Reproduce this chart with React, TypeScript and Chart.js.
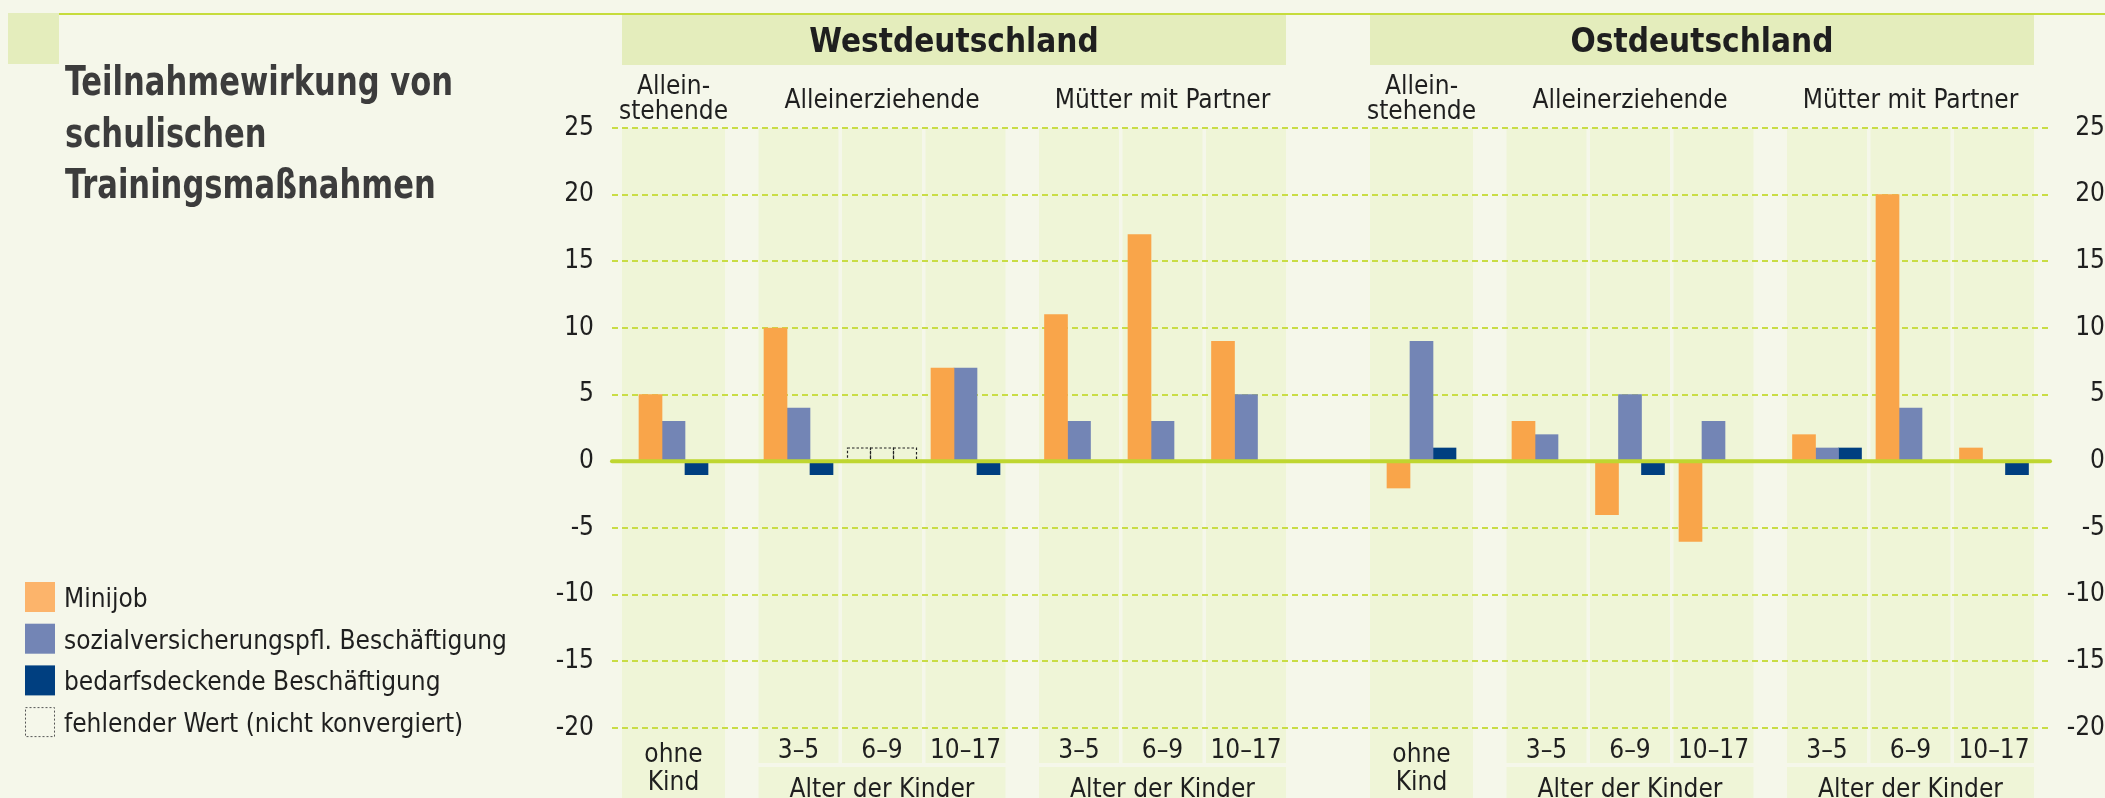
import React, { useEffect, useRef } from "react";
import { Chart, registerables } from "chart.js";

Chart.register(...registerables);

// ---------------- data ----------------
const TITLE_LINES = ["Teilnahmewirkung von", "schulischen", "Trainingsmaßnahmen"];
const REGIONS = ["Westdeutschland", "Ostdeutschland"];
const GROUP_TITLES = [["Allein-", "stehende"], ["Alleinerziehende"], ["Mütter mit Partner"]];
const CATEGORY_REGION = [0, 0, 0, 0, 0, 0, 0, 1, 1, 1, 1, 1, 1, 1];
const CATEGORY_GROUP = [0, 1, 1, 1, 2, 2, 2, 0, 1, 1, 1, 2, 2, 2];
const CATEGORY_LABELS = [
  ["ohne", "Kind"], ["3–5"], ["6–9"], ["10–17"], ["3–5"], ["6–9"], ["10–17"],
  ["ohne", "Kind"], ["3–5"], ["6–9"], ["10–17"], ["3–5"], ["6–9"], ["10–17"],
];
const AGE_CAPTION = "Alter der Kinder";
const SERIES_NAMES = ["Minijob", "sozialversicherungspfl. Beschäftigung", "bedarfsdeckende Beschäftigung"];
const MISSING_NAME = "fehlender Wert (nicht konvergiert)";
const MINIJOB = [5, 10, null, 7, 11, 17, 9, -2, 3, -4, -6, 2, 20, 1];
const SOZIAL = [3, 4, null, 7, 3, 3, 5, 9, 2, 5, 3, 1, 4, 0];
const BEDARF = [-1, -1, null, -1, 0, 0, 0, 1, 0, -1, 0, 1, 0, -1];
const MISSING = [false, false, true, false, false, false, false, false, false, false, false, false, false, false];
const MISSING_PLACEHOLDER = 1;
const Y_MIN = -20;
const Y_MAX = 25;
const Y_STEP = 5;

// ---------------- style / layout ----------------
const W = 2105;
const H = 798;
const FONT = '"Liberation Sans Narrow", "DejaVu Sans Condensed", "Arial Narrow", sans-serif';
const C = {
  bg: "#f5f7ea",
  band: "#eff5d7",
  header: "#e4edbc",
  rule: "#c6dc3c",
  grid: "#c9dd45",
  zero: "#bfd630",
  text: "#1f1f1f",
  title: "#3c3c3c",
};
const SERIES_COLORS = ["#f9a54a", "#7385b5", "#003f80"];
const LEGEND_COLORS = ["#fcb46b", "#7385b5", "#003f80"];
const SINGLE_W = 103;
const COL_W = 80;
const COL_GAP = 3.5;
const GROUP_GAP = 33.5;
const REGION_GAP = 84;
const BAR_W = 23;
const LEFT_AXIS_W = 622;
const RIGHT_AXIS_W = 71;
const RIGHT_LABEL_EDGE = 2099;
const TICK_SIZE = 26;
const TITLE_WIDTH = 388;

function f(size: number, bold = false) {
  return `${bold ? "bold " : ""}${size}px ${FONT}`;
}

// positions of columns along the x (layout) axis
const LAYOUT = (() => {
  const left: number[] = [];
  const width: number[] = [];
  let cursor = 0;
  for (let i = 0; i < CATEGORY_GROUP.length; i++) {
    if (i > 0) {
      if (CATEGORY_REGION[i] !== CATEGORY_REGION[i - 1]) cursor += REGION_GAP;
      else if (CATEGORY_GROUP[i] !== CATEGORY_GROUP[i - 1]) cursor += GROUP_GAP;
      else cursor += COL_GAP;
    }
    const w = CATEGORY_GROUP[i] === 0 ? SINGLE_W : COL_W;
    left.push(cursor);
    width.push(w);
    cursor += w;
  }
  const center = left.map((l, i) => l + width[i] / 2);
  return { left, width, center, total: cursor };
})();

function span(pred: (i: number) => boolean) {
  let lo = Infinity;
  let hi = -Infinity;
  for (let i = 0; i < CATEGORY_GROUP.length; i++) {
    if (pred(i)) {
      lo = Math.min(lo, LAYOUT.left[i]);
      hi = Math.max(hi, LAYOUT.left[i] + LAYOUT.width[i]);
    }
  }
  return [lo, hi];
}

const decorPlugin = {
  id: "decor",
  beforeDraw(chart: any) {
    const { ctx } = chart;
    const xs = chart.scales.x;
    const ys = chart.scales.y;
    const px = (v: number) => xs.getPixelForValue(v);
    ctx.save();
    ctx.fillStyle = C.bg;
    ctx.fillRect(0, 0, W, H);

    // corner square and top rule
    ctx.fillStyle = C.header;
    ctx.fillRect(8, 13, 51, 51);
    ctx.fillStyle = C.rule;
    ctx.fillRect(59, 13, W - 59, 2);

    // region headers
    REGIONS.forEach((name, r) => {
      const [lo, hi] = span((i) => CATEGORY_REGION[i] === r);
      const l = px(lo);
      const rr = px(hi);
      ctx.fillStyle = C.header;
      ctx.fillRect(l, 15, rr - l, 50);
      ctx.fillStyle = C.text;
      ctx.font = f(33, true);
      ctx.textAlign = "center";
      ctx.textBaseline = "alphabetic";
      ctx.fillText(name, (l + rr) / 2, 52);
    });

    // column bands
    const bandTop = ys.getPixelForValue(Y_MAX);
    for (let i = 0; i < CATEGORY_GROUP.length; i++) {
      const l = px(LAYOUT.left[i]);
      const r = px(LAYOUT.left[i] + LAYOUT.width[i]);
      ctx.fillStyle = C.band;
      const bottom = CATEGORY_GROUP[i] === 0 ? H : 763;
      ctx.fillRect(l, bandTop, r - l, bottom - bandTop);
      // column labels
      ctx.fillStyle = C.text;
      ctx.font = f(26);
      ctx.textAlign = "center";
      const cx = (l + r) / 2;
      const lines = CATEGORY_LABELS[i];
      if (lines.length === 2) {
        ctx.fillText(lines[0], cx, 762);
        ctx.fillText(lines[1], cx, 790);
      } else {
        ctx.fillText(lines[0], cx, 758);
      }
    }

    // group titles and age captions
    REGIONS.forEach((_, r) => {
      GROUP_TITLES.forEach((lines, g) => {
        const [lo, hi] = span((i) => CATEGORY_REGION[i] === r && CATEGORY_GROUP[i] === g);
        const l = px(lo);
        const rr = px(hi);
        const cx = (l + rr) / 2;
        ctx.fillStyle = C.text;
        ctx.font = f(26);
        ctx.textAlign = "center";
        if (lines.length === 2) {
          ctx.fillText(lines[0], cx, 94);
          ctx.fillText(lines[1], cx, 119);
        } else {
          ctx.fillText(lines[0], cx, 108);
        }
        if (g > 0) {
          ctx.fillStyle = C.band;
          ctx.fillRect(l, 767, rr - l, H - 767);
          ctx.fillStyle = C.text;
          ctx.fillText(AGE_CAPTION, cx, 797);
        }
      });
    });

    // title (condensed to the reference width)
    ctx.fillStyle = C.title;
    ctx.font = f(41, true);
    ctx.textAlign = "left";
    const squeeze = Math.min(1, TITLE_WIDTH / ctx.measureText(TITLE_LINES[0]).width);
    TITLE_LINES.forEach((t, k) =>
      ctx.fillText(t, 65, 95 + k * 51.5, ctx.measureText(t).width * squeeze)
    );

    // legend
    const legendTop = 582;
    const step = 41.7;
    ctx.font = f(26);
    SERIES_NAMES.forEach((name, k) => {
      const y = legendTop + k * step;
      ctx.fillStyle = LEGEND_COLORS[k];
      ctx.fillRect(25, y, 30, 30);
      ctx.fillStyle = C.text;
      ctx.fillText(name, 64, y + 25);
    });
    {
      const y = legendTop + 3 * step;
      ctx.strokeStyle = "#555";
      ctx.lineWidth = 1;
      ctx.setLineDash([2, 2]);
      ctx.strokeRect(25.5, y + 0.5, 29, 29);
      ctx.setLineDash([]);
      ctx.fillStyle = C.text;
      ctx.fillText(MISSING_NAME, 64, y + 25);
    }
    ctx.restore();
  },
  beforeDatasetsDraw(chart: any) {
    const { ctx, chartArea } = chart;
    const ys = chart.scales.y;
    ctx.save();
    ctx.strokeStyle = C.grid;
    ctx.lineWidth = 2;
    ctx.setLineDash([6, 4]);
    for (let v = Y_MIN; v <= Y_MAX; v += Y_STEP) {
      if (v === 0) continue;
      const y = Math.round(ys.getPixelForValue(v));
      ctx.beginPath();
      ctx.moveTo(chartArea.left - 10, y);
      ctx.lineTo(chartArea.right + 18, y);
      ctx.stroke();
    }
    ctx.restore();
  },
  afterDatasetsDraw(chart: any) {
    const { ctx, chartArea } = chart;
    const xs = chart.scales.x;
    const ys = chart.scales.y;
    ctx.save();
    // missing-value placeholders
    ctx.strokeStyle = "#222";
    ctx.lineWidth = 1.2;
    ctx.setLineDash([2.5, 2]);
    const y0 = ys.getPixelForValue(0);
    const y1 = ys.getPixelForValue(MISSING_PLACEHOLDER);
    MISSING.forEach((m, i) => {
      if (!m) return;
      const c = xs.getPixelForValue(LAYOUT.center[i]);
      for (let k = 0; k < SERIES_NAMES.length; k++) {
        const bx = c + (k - 1) * BAR_W - BAR_W / 2;
        ctx.strokeRect(bx, y1, BAR_W, y0 - y1);
      }
    });
    ctx.setLineDash([]);
    // zero line
    ctx.strokeStyle = C.zero;
    ctx.lineWidth = 4;
    ctx.lineCap = "round";
    ctx.beginPath();
    ctx.moveTo(chartArea.left - 10, y0);
    ctx.lineTo(chartArea.right + 16, y0);
    ctx.stroke();
    ctx.restore();
  },
};

export default function App() {
  const ref = useRef<HTMLCanvasElement | null>(null);
  useEffect(() => {
    document.body.style.margin = "0";
    document.body.style.background = C.bg;
    const canvas = ref.current;
    if (!canvas) return;
    // widest tick label, so right-hand labels end flush at the reference edge
    const mctx = canvas.getContext("2d")!;
    mctx.font = f(TICK_SIZE);
    let widest = 0;
    for (let v = Y_MIN; v <= Y_MAX; v += Y_STEP) {
      widest = Math.max(widest, mctx.measureText(String(v)).width);
    }
    const rightPad = Math.max(0, RIGHT_LABEL_EDGE - (W - RIGHT_AXIS_W) - widest);

    const series = [MINIJOB, SOZIAL, BEDARF];
    const yAxis = (position: "left" | "right", width: number, padding: number, crossAlign: string) => ({
      type: "linear" as const,
      position,
      min: Y_MIN,
      max: Y_MAX,
      grid: { display: false, drawTicks: false },
      border: { display: false },
      ticks: {
        stepSize: Y_STEP,
        padding,
        crossAlign,
        color: C.text,
        font: { family: FONT, size: TICK_SIZE },
      },
      afterFit: (s: any) => {
        s.width = width;
      },
    });
    const chart = new Chart(canvas, {
      type: "bar",
      data: {
        datasets: series.map((vals, k) => ({
          label: SERIES_NAMES[k],
          data: vals.map((v, i) => ({ x: LAYOUT.center[i], y: v })),
          backgroundColor: SERIES_COLORS[k],
          borderWidth: 0,
          barThickness: BAR_W,
          grouped: true,
        })),
      } as any,
      options: {
        responsive: false,
        animation: false,
        events: [],
        layout: { padding: { top: 128, bottom: 70, left: 0, right: 0 } },
        plugins: { legend: { display: false }, tooltip: { enabled: false } },
        scales: {
          x: { type: "linear", min: 0, max: LAYOUT.total, offset: false, display: false },
          y: yAxis("left", LEFT_AXIS_W, 28, "near"),
          y2: yAxis("right", RIGHT_AXIS_W, rightPad, "far"),
        },
      } as any,
      plugins: [decorPlugin],
    });
    return () => chart.destroy();
  }, []);
  return <canvas ref={ref} width={W} height={H} style={{ display: "block" }} />;
}
